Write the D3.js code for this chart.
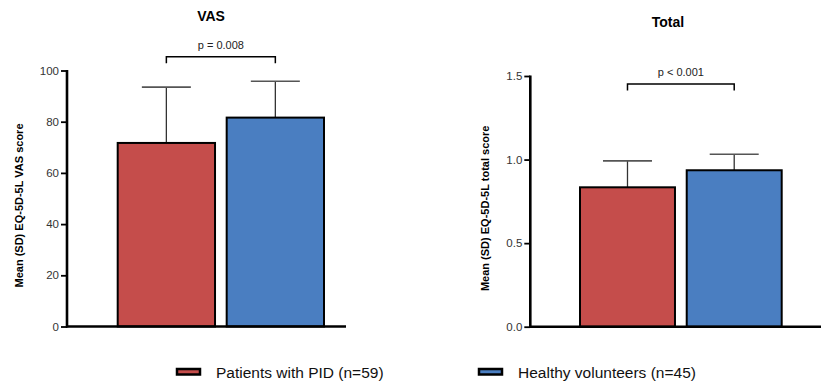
<!DOCTYPE html>
<html>
<head>
<meta charset="utf-8">
<script src="https://cdn.jsdelivr.net/npm/d3@7"></script>
<style>
  body { margin: 0; background: #fff; }
  text { font-family: "Liberation Sans", Arial, sans-serif; }
</style>
</head>
<body>
<div id="chart"></div>
<script>
const groups = ['Patients with PID (n=59)', 'Healthy volunteers (n=45)'];
const colors = ['#c54d4b', '#4a7ec1'];

const vasMean = [71.7, 81.6];
const vasSD = [21.8, 14.2];
const vasTicks = [0, 20, 40, 60, 80, 100];

const totalMean = [0.834, 0.936];
const totalSD = [0.158, 0.096];
const totalTicks = [0, 0.5, 1.0, 1.5];

const pLabels = ['p = 0.008', 'p < 0.001'];

const width = 821, height = 385;

const svg = d3.select('#chart').append('svg')
  .attr('width', width)
  .attr('height', height);

function drawPanel(cfg) {
  const y = d3.scaleLinear().domain(cfg.domain).range([cfg.y0, cfg.yTop]);
  const x = d3.scaleBand().domain(groups).range(cfg.barRange).paddingInner(cfg.pad);
  const g = svg.append('g');

  // error bars (drawn first, bars cover the lower half)
  const cap = 24.5;
  cfg.mean.forEach((m, i) => {
    const cx = x(groups[i]) + x.bandwidth() / 2;
    g.append('line')
      .attr('x1', cx).attr('x2', cx)
      .attr('y1', y(m)).attr('y2', y(m + cfg.sd[i]))
      .attr('stroke', '#333').attr('stroke-width', 1.3);
    g.append('line')
      .attr('x1', cx - cap).attr('x2', cx + cap)
      .attr('y1', y(m + cfg.sd[i])).attr('y2', y(m + cfg.sd[i]))
      .attr('stroke', '#555').attr('stroke-width', 1.6);
  });

  g.selectAll('rect.bar')
    .data(cfg.mean)
    .enter().append('rect')
      .attr('class', 'bar')
      .attr('x', (d, i) => x(groups[i]))
      .attr('y', d => y(d))
      .attr('width', x.bandwidth())
      .attr('height', d => cfg.y0 - y(d))
      .attr('fill', (d, i) => colors[i])
      .attr('stroke', '#000')
      .attr('stroke-width', 2);

  // y axis
  const yAxis = d3.axisLeft(y)
    .tickValues(cfg.ticks)
    .tickFormat(cfg.fmt)
    .tickSize(6)
    .tickPadding(2);
  const ya = g.append('g')
    .attr('transform', `translate(${cfg.axisX},0)`)
    .call(yAxis);
  ya.select('.domain').remove();
  ya.selectAll('.tick line').attr('stroke', '#000').attr('stroke-width', 1.8);
  ya.selectAll('.tick text')
    .attr('fill', '#333')
    .style('font-size', '11.5px');

  g.append('line')
    .attr('x1', cfg.axisX).attr('x2', cfg.axisX)
    .attr('y1', cfg.y0 + 1).attr('y2', cfg.yTop - 0.5)
    .attr('stroke', '#000').attr('stroke-width', 2.6);

  // x axis baseline
  g.append('line')
    .attr('x1', cfg.axisX - 1).attr('x2', cfg.xEnd)
    .attr('y1', cfg.y0).attr('y2', cfg.y0)
    .attr('stroke', '#000').attr('stroke-width', 2.5);

  // y label
  g.append('text')
    .attr('transform', `translate(${cfg.labelX},${(cfg.y0 + cfg.yTop) / 2 + 7}) rotate(-90)`)
    .attr('text-anchor', 'middle')
    .style('font-size', '11px')
    .style('font-weight', 'bold')
    .text(cfg.ylabel);

  // title
  g.append('text')
    .attr('x', cfg.titleX).attr('y', cfg.titleY)
    .attr('text-anchor', 'middle')
    .style('font-size', '14px')
    .style('font-weight', 'bold')
    .text(cfg.title);

  // significance bracket
  const c1 = x(groups[0]) + x.bandwidth() / 2;
  const c2 = x(groups[1]) + x.bandwidth() / 2;
  g.append('path')
    .attr('d', `M${c1},${cfg.brY + 6.5}V${cfg.brY}H${c2}V${cfg.brY + 6.5}`)
    .attr('fill', 'none')
    .attr('stroke', '#000')
    .attr('stroke-width', 1.5);
  g.append('text')
    .attr('x', (c1 + c2) / 2).attr('y', cfg.brY - 8)
    .attr('text-anchor', 'middle')
    .style('font-size', '11px')
    .attr('fill', '#222')
    .text(cfg.p);
}

drawPanel({
  domain: [0, 100], y0: 326.5, yTop: 70.5,
  axisX: 67, xEnd: 346,
  barRange: [117.7, 324], pad: 0.107,
  mean: vasMean, sd: vasSD, ticks: vasTicks, fmt: d3.format('d'),
  ylabel: 'Mean (SD) EQ-5D-5L VAS score', labelX: 23,
  title: 'VAS', titleX: 211, titleY: 21,
  brY: 56.7, p: pLabels[0]
});

drawPanel({
  domain: [0, 1.5], y0: 326.7, yTop: 76,
  axisX: 530.3, xEnd: 821,
  barRange: [580, 781.7], pad: 0.11,
  mean: totalMean, sd: totalSD, ticks: totalTicks, fmt: d3.format('.1f'),
  ylabel: 'Mean (SD) EQ-5D-5L total score', labelX: 489,
  title: 'Total', titleX: 668, titleY: 26.5,
  brY: 84, p: pLabels[1]
});

// legend
const legendX = [176, 478];
const legend = svg.append('g');
groups.forEach((name, i) => {
  legend.append('rect')
    .attr('x', legendX[i] + 1).attr('y', 369)
    .attr('width', 23).attr('height', 5.5)
    .attr('fill', colors[i])
    .attr('stroke', '#000')
    .attr('stroke-width', 2.5);
  legend.append('text')
    .attr('x', legendX[i] + 40).attr('y', 378)
    .style('font-size', '15.5px')
    .attr('fill', '#111')
    .text(name);
});
</script>
</body>
</html>
